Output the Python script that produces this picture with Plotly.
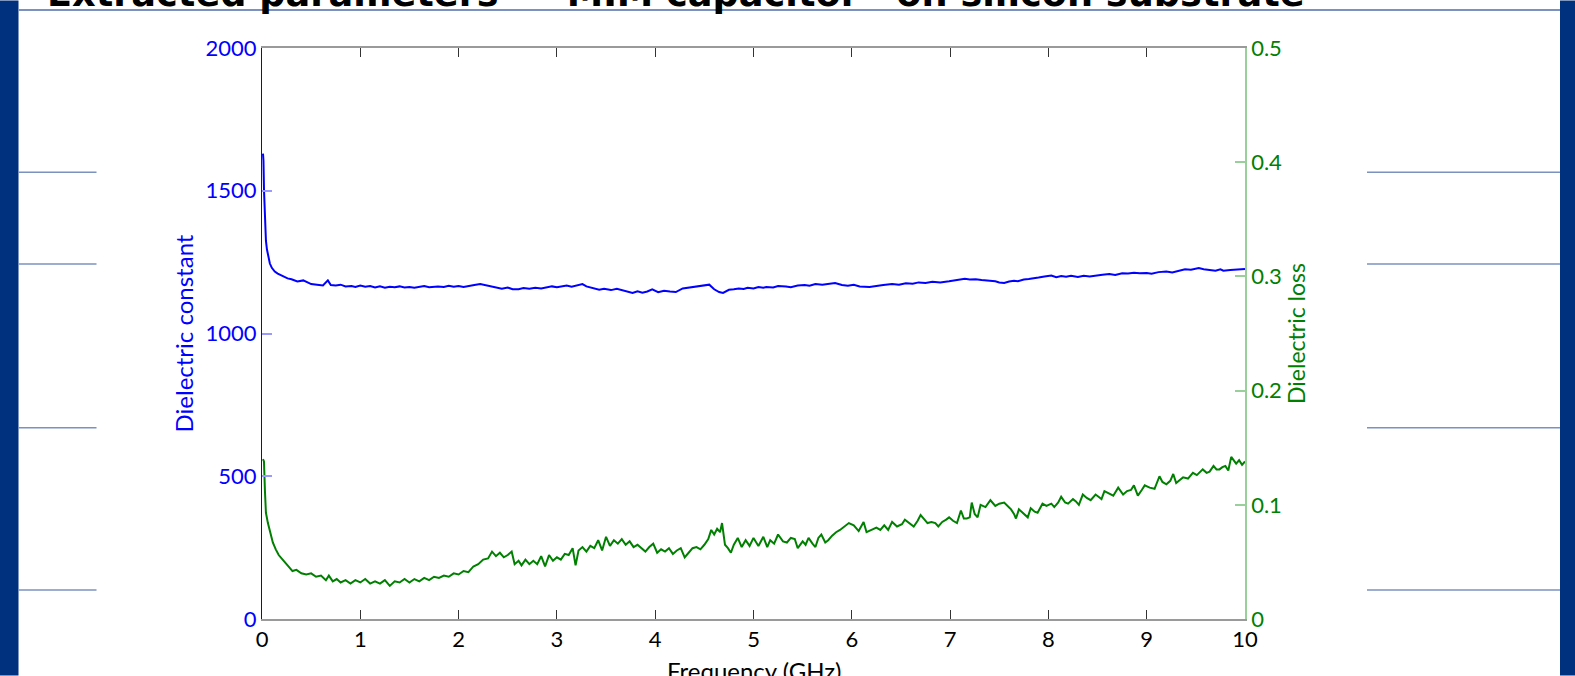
import plotly.graph_objects as go

# ---------------- data ----------------
eps_freq = [0.01, 0.015, 0.02, 0.03, 0.04, 0.05, 0.06, 0.08, 0.10, 0.13, 0.16, 0.20, 0.26, 0.30, 0.36, 0.42,
            0.46, 0.50, 0.56, 0.62, 0.67, 0.70, 0.75, 0.80, 0.85, 0.91, 0.95, 1.00, 1.05, 1.10, 1.15, 1.20,
            1.25, 1.30, 1.35, 1.40, 1.45, 1.50, 1.55, 1.60, 1.65, 1.70, 1.79, 1.85, 1.90, 1.95, 2.00, 2.05,
            2.10, 2.16, 2.22, 2.28, 2.34, 2.40, 2.44, 2.50, 2.55, 2.61, 2.66, 2.72, 2.78, 2.84, 2.90, 2.95,
            3.00, 3.05, 3.10, 3.15, 3.20, 3.26, 3.30, 3.36, 3.43, 3.48, 3.55, 3.61, 3.67, 3.72, 3.77, 3.82,
            3.87, 3.92, 3.97, 4.03, 4.09, 4.15, 4.21, 4.28, 4.34, 4.40, 4.45, 4.51, 4.55, 4.60, 4.65, 4.69,
            4.75, 4.80, 4.85, 4.90, 4.94, 5.00, 5.05, 5.10, 5.13, 5.20, 5.25, 5.33, 5.38, 5.45, 5.52, 5.57,
            5.63, 5.70, 5.76, 5.83, 5.90, 5.96, 6.02, 6.08, 6.18, 6.25, 6.32, 6.41, 6.48, 6.55, 6.62, 6.68,
            6.75, 6.82, 6.90, 6.99, 7.05, 7.10, 7.15, 7.20, 7.26, 7.32, 7.40, 7.46, 7.50, 7.55, 7.60, 7.65,
            7.69, 7.75, 7.80, 7.84, 7.90, 7.96, 8.03, 8.08, 8.13, 8.18, 8.23, 8.30, 8.36, 8.42, 8.48, 8.55,
            8.62, 8.68, 8.75, 8.81, 8.87, 8.93, 9.00, 9.05, 9.12, 9.20, 9.26, 9.33, 9.39, 9.45, 9.53, 9.58,
            9.64, 9.70, 9.75, 9.78, 9.85, 9.93, 10.0]
eps_value = [1630, 1605, 1505, 1385, 1325, 1295, 1275, 1245, 1230, 1217, 1210, 1203, 1193, 1190, 1182, 1186,
             1179, 1173, 1171, 1168, 1186, 1170, 1168, 1171, 1165, 1166, 1163, 1168, 1164, 1166, 1161, 1165,
             1160, 1164, 1162, 1165, 1161, 1163, 1160, 1162, 1166, 1162, 1165, 1163, 1167, 1164, 1166, 1163,
             1167, 1170, 1173, 1168, 1165, 1160, 1157, 1161, 1155, 1155, 1159, 1157, 1160, 1158, 1163, 1165,
             1162, 1165, 1168, 1164, 1169, 1173, 1165, 1160, 1153, 1157, 1152, 1157, 1151, 1145, 1142, 1148,
             1143, 1147, 1155, 1145, 1150, 1147, 1145, 1158, 1161, 1163, 1167, 1169, 1171, 1155, 1145, 1142,
             1153, 1155, 1158, 1156, 1160, 1158, 1163, 1160, 1163, 1161, 1166, 1165, 1162, 1168, 1170, 1167,
             1173, 1171, 1175, 1177, 1170, 1167, 1171, 1165, 1163, 1167, 1170, 1173, 1171, 1176, 1174, 1179,
             1177, 1181, 1179, 1183, 1186, 1188, 1192, 1189, 1190, 1187, 1185, 1183, 1179, 1177, 1182, 1185,
             1183, 1189, 1191, 1194, 1196, 1200, 1203, 1197, 1201, 1199, 1202, 1198, 1202, 1200, 1204, 1206,
             1208, 1205, 1211, 1210, 1213, 1211, 1212, 1209, 1215, 1217, 1214, 1221, 1225, 1223, 1229, 1225,
             1223, 1220, 1225, 1220, 1222, 1225, 1226]

loss_freq = [0.01, 0.02, 0.03, 0.04, 0.06, 0.075, 0.09, 0.11, 0.14, 0.17, 0.21, 0.245, 0.28, 0.31, 0.35, 0.40,
             0.45, 0.50, 0.55, 0.60, 0.65, 0.68, 0.72, 0.76, 0.80, 0.85, 0.90, 0.95, 1.00, 1.05, 1.10, 1.15,
             1.20, 1.25, 1.30, 1.35, 1.40, 1.45, 1.50, 1.55, 1.60, 1.65, 1.70, 1.75, 1.80, 1.85, 1.90, 1.95,
             2.00, 2.05, 2.10, 2.15, 2.20, 2.25, 2.30, 2.34, 2.38, 2.42, 2.46, 2.50, 2.54, 2.57, 2.61, 2.64,
             2.68, 2.72, 2.76, 2.80, 2.84, 2.88, 2.92, 2.96, 3.00, 3.04, 3.08, 3.12, 3.16, 3.19, 3.22, 3.26,
             3.30, 3.34, 3.38, 3.42, 3.46, 3.50, 3.54, 3.58, 3.62, 3.66, 3.70, 3.74, 3.78, 3.82, 3.86, 3.90,
             3.94, 3.98, 4.02, 4.06, 4.10, 4.14, 4.18, 4.22, 4.26, 4.30, 4.34, 4.38, 4.42, 4.46, 4.50, 4.54,
             4.57, 4.60, 4.63, 4.66, 4.68, 4.71, 4.74, 4.77, 4.80, 4.84, 4.88, 4.92, 4.96, 5.00, 5.05, 5.10,
             5.14, 5.17, 5.21, 5.25, 5.30, 5.34, 5.38, 5.42, 5.45, 5.50, 5.53, 5.56, 5.60, 5.63, 5.66, 5.69,
             5.73, 5.76, 5.80, 5.84, 5.88, 5.92, 5.97, 6.02, 6.07, 6.12, 6.15, 6.20, 6.25, 6.29, 6.33, 6.37,
             6.41, 6.46, 6.51, 6.54, 6.58, 6.63, 6.67, 6.70, 6.74, 6.77, 6.81, 6.85, 6.88, 6.92, 6.96, 6.99,
             7.03, 7.07, 7.11, 7.14, 7.17, 7.20, 7.22, 7.25, 7.28, 7.31, 7.36, 7.41, 7.46, 7.50, 7.55, 7.59,
             7.62, 7.65, 7.67, 7.70, 7.74, 7.77, 7.79, 7.82, 7.86, 7.89, 7.94, 7.98, 8.03, 8.06, 8.10, 8.13,
             8.17, 8.20, 8.25, 8.28, 8.31, 8.35, 8.39, 8.43, 8.48, 8.51, 8.54, 8.57, 8.62, 8.66, 8.71, 8.76,
             8.80, 8.84, 8.87, 8.91, 8.95, 8.98, 9.03, 9.08, 9.13, 9.16, 9.20, 9.24, 9.27, 9.30, 9.34, 9.37,
             9.42, 9.47, 9.51, 9.54, 9.57, 9.61, 9.64, 9.68, 9.71, 9.74, 9.77, 9.80, 9.83, 9.86, 9.89, 9.91,
             9.94, 9.97, 10.0]
loss_value = [0.140, 0.138, 0.112, 0.093, 0.084, 0.078, 0.073, 0.067, 0.061, 0.056, 0.052, 0.048, 0.045, 0.042, 0.043, 0.040,
              0.039, 0.040, 0.037, 0.038, 0.034, 0.038, 0.033, 0.035, 0.032, 0.034, 0.031, 0.034, 0.032, 0.035, 0.031, 0.033,
              0.031, 0.034, 0.029, 0.033, 0.032, 0.035, 0.032, 0.035, 0.033, 0.036, 0.034, 0.037, 0.036, 0.038, 0.037, 0.040,
              0.039, 0.042, 0.041, 0.046, 0.048, 0.052, 0.053, 0.059, 0.055, 0.058, 0.054, 0.056, 0.059, 0.048, 0.051, 0.047,
              0.052, 0.048, 0.051, 0.048, 0.055, 0.046, 0.056, 0.051, 0.054, 0.052, 0.057, 0.056, 0.062, 0.047, 0.060, 0.063,
              0.059, 0.064, 0.062, 0.069, 0.060, 0.072, 0.064, 0.069, 0.066, 0.070, 0.065, 0.068, 0.063, 0.065, 0.062, 0.059,
              0.063, 0.066, 0.058, 0.061, 0.059, 0.062, 0.057, 0.060, 0.062, 0.054, 0.058, 0.062, 0.063, 0.061, 0.065, 0.070,
              0.078, 0.074, 0.079, 0.076, 0.084, 0.065, 0.062, 0.058, 0.065, 0.071, 0.063, 0.069, 0.064, 0.071, 0.064, 0.072,
              0.063, 0.069, 0.066, 0.074, 0.068, 0.067, 0.071, 0.070, 0.062, 0.068, 0.065, 0.071, 0.066, 0.063, 0.071, 0.074,
              0.067, 0.069, 0.073, 0.076, 0.078, 0.081, 0.084, 0.082, 0.077, 0.085, 0.076, 0.078, 0.080, 0.078, 0.082, 0.078,
              0.085, 0.081, 0.083, 0.087, 0.084, 0.081, 0.086, 0.091, 0.087, 0.084, 0.085, 0.084, 0.081, 0.085, 0.087, 0.089,
              0.086, 0.084, 0.095, 0.088, 0.088, 0.089, 0.102, 0.092, 0.089, 0.100, 0.098, 0.104, 0.099, 0.101, 0.102, 0.099,
              0.096, 0.092, 0.088, 0.096, 0.093, 0.091, 0.089, 0.097, 0.094, 0.093, 0.101, 0.099, 0.101, 0.098, 0.102, 0.107,
              0.102, 0.101, 0.105, 0.103, 0.100, 0.109, 0.106, 0.104, 0.109, 0.107, 0.105, 0.112, 0.110, 0.108, 0.115, 0.109,
              0.112, 0.113, 0.117, 0.108, 0.113, 0.117, 0.115, 0.114, 0.125, 0.120, 0.118, 0.121, 0.127, 0.119, 0.122, 0.124,
              0.123, 0.128, 0.126, 0.129, 0.131, 0.128, 0.129, 0.134, 0.131, 0.131, 0.133, 0.134, 0.130, 0.142, 0.138, 0.136,
              0.139, 0.135, 0.138]

x_ticks = [0, 1, 2, 3, 4, 5, 6, 7, 8, 9, 10]
eps_ticks = [0, 500, 1000, 1500, 2000]
loss_ticks = [0, 0.1, 0.2, 0.3, 0.4, 0.5]
loss_tick_text = ["0", "0.1", "0.2", "0.3", "0.4", "0.5"]

title_text = "Extracted parameters \u2013 \u201cMIM capacitor\u201d on silicon substrate"
x_title = "Frequency (GHz)"
eps_title = "Dielectric constant"
loss_title = "Dielectric loss"

# ---------------- layout geometry (pixels) ----------------
W, H = 1575, 676
L, R, T, B = 262, 1245, 47.5, 619.5


def px(X):
    return (X - L) / (R - L)


def py(Y):
    return (B - Y) / (B - T)


BLUE = "#0000ff"
GREEN = "#008000"
FONT = "Lato, 'Open Sans', sans-serif"

fig = go.Figure()
fig.add_trace(go.Scatter(x=eps_freq, y=eps_value, mode="lines",
                         line=dict(color=BLUE, width=2), yaxis="y", showlegend=False))
fig.add_trace(go.Scatter(x=loss_freq, y=loss_value, mode="lines",
                         line=dict(color=GREEN, width=2), yaxis="y2", showlegend=False))

shapes = []
bar_col = "#00317f"
line_col = "#7b92c0"
# side bars of the slide
shapes.append(dict(type="rect", xref="paper", yref="paper", x0=px(0), x1=px(18.5), y0=py(H), y1=py(0),
                   fillcolor=bar_col, line=dict(width=0), layer="below"))
shapes.append(dict(type="rect", xref="paper", yref="paper", x0=px(1560), x1=px(W), y0=py(H), y1=py(0),
                   fillcolor=bar_col, line=dict(width=0), layer="below"))
# title rule
shapes.append(dict(type="line", xref="paper", yref="paper", x0=px(18.5), x1=px(1560), y0=py(9.5), y1=py(9.5),
                   line=dict(color=line_col, width=2), layer="below"))
for Y in [172, 264, 428, 590.5]:
    shapes.append(dict(type="line", xref="paper", yref="paper", x0=px(18.5), x1=px(96.5), y0=py(Y), y1=py(Y),
                       line=dict(color=line_col, width=1.5), layer="below"))
    shapes.append(dict(type="line", xref="paper", yref="paper", x0=px(1367), x1=px(1560), y0=py(Y), y1=py(Y),
                       line=dict(color=line_col, width=1.5), layer="below"))

annotations = [
    dict(text="<b>" + title_text + "</b>", xref="paper", yref="paper", x=px(45), y=py(16),
         xanchor="left", yanchor="bottom", showarrow=False,
         font=dict(family="'DejaVu Sans', sans-serif", size=36.7, color="#000000")),
    dict(text=x_title, xref="paper", yref="paper", x=0.5, y=py(655), xanchor="center", yanchor="top",
         showarrow=False, font=dict(family=FONT, size=24, color="#000000")),
]

fig.update_layout(
    width=W, height=H, autosize=False,
    margin=dict(l=L, r=W - R, t=T, b=H - B, autoexpand=False),
    paper_bgcolor="white", plot_bgcolor="white",
    shapes=shapes, annotations=annotations,
    xaxis=dict(range=[0, 10], tickvals=x_ticks, ticks="inside", ticklen=9, tickcolor="#333333", tickwidth=1,
               showline=True, linecolor="#9a9a9a", linewidth=1.5, mirror="ticks", showgrid=False, zeroline=False,
               automargin=False,
               tickfont=dict(family=FONT, size=22, color="#000000")),
    yaxis=dict(range=[0, 2000], tickvals=eps_ticks, ticks="inside", ticklen=10, tickcolor="#9999ff", tickwidth=1.5,
               showline=True, linecolor=BLUE, linewidth=1, showgrid=False, zeroline=False, automargin=False,
               tickfont=dict(family=FONT, size=22, color=BLUE),
               title=dict(text=eps_title, font=dict(family=FONT, size=24, color=BLUE), standoff=5)),
    yaxis2=dict(range=[0, 0.5], tickvals=loss_ticks, ticktext=loss_tick_text, overlaying="y", side="right",
                ticks="inside", ticklen=10, tickcolor="#99d099", tickwidth=1.5, automargin=False,
                showline=True, linecolor="#99d099", linewidth=1.5, showgrid=False, zeroline=False,
                tickfont=dict(family=FONT, size=22, color=GREEN),
                title=dict(text=loss_title, font=dict(family=FONT, size=23, color=GREEN), standoff=5)),
    yaxis3=dict(range=[0, 2000], tickvals=eps_ticks, overlaying="y", side="right", ticks="inside", ticklen=10,
                tickcolor="#9999ff", tickwidth=1.5, showticklabels=False, showline=False, showgrid=False,
                zeroline=False, automargin=False),
)

fig.write_html("out.html",
               config={"responsive": False, "displayModeBar": False},
               post_script="document.body.style.margin='0';document.body.style.overflow='hidden';")
